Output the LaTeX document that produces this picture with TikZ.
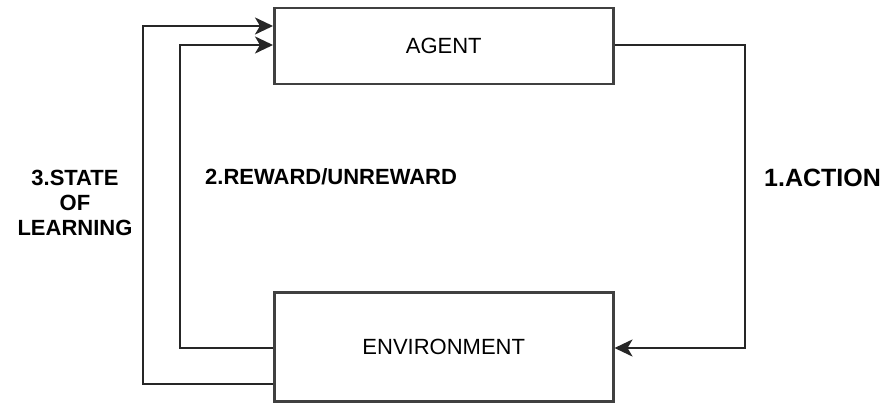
\documentclass[tikz,border=0pt]{standalone}
\usepackage{fontspec}
\setmainfont{Liberation Sans}
\usetikzlibrary{arrows.meta}
\begin{document}
\begin{tikzpicture}[x=1pt,y=-1pt,
  block/.style={draw=black!75, line width=2.5pt, minimum width=339pt, inner sep=0pt},
  link/.style={draw=black!85, line width=2.5pt, -{Stealth[length=18pt,width=17pt,inset=5pt]}},
  lbl/.style={font=\fontsize{22}{25}\selectfont\bfseries, align=center, inner sep=0pt},
  boxtext/.style={font=\fontsize{22}{25}\selectfont}]
  \useasboundingbox (0,0) rectangle (888,406);
  \fill[white] (0,0) rectangle (888,406);

  % the two blocks
  \node[block, minimum height=76pt, anchor=north west] (agent) at (273,7) {};
  \node[boxtext] at (agent.center) {AGENT};
  \node[block, minimum height=109pt, anchor=north west] (env) at (273,291) {};
  \node[boxtext] at (env.center) {ENVIRONMENT};

  % corner points of the loops
  \coordinate (a1) at (745,45);
  \coordinate (a2) at (745,348);
  \coordinate (r1) at (180,348);
  \coordinate (r2) at (180,45);
  \coordinate (s1) at (143,384);
  \coordinate (s2) at (143,26);

  % 1. action: agent -> environment
  \draw[link] (agent.east |- a1) -- (a1) -- (a2) -- (env.east |- a2);
  % 2. reward: environment -> agent
  \draw[link] (env.west |- r1) -- (r1) -- (r2) -- (agent.west |- r2);
  % 3. state: environment -> agent
  \draw[link] (env.west |- s1) -- (s1) -- (s2) -- (agent.west |- s2);

  % labels
  \node[lbl] (lstate) at (75,203) {3.STATE\\OF\\LEARNING};
  \node[lbl, anchor=west] (lreward) at (205,177) {2.REWARD/UNREWARD};
  \node[lbl, anchor=west, font=\fontsize{25}{28}\selectfont\bfseries] (laction) at (764,178) {1.ACTION};
\end{tikzpicture}
\end{document}
